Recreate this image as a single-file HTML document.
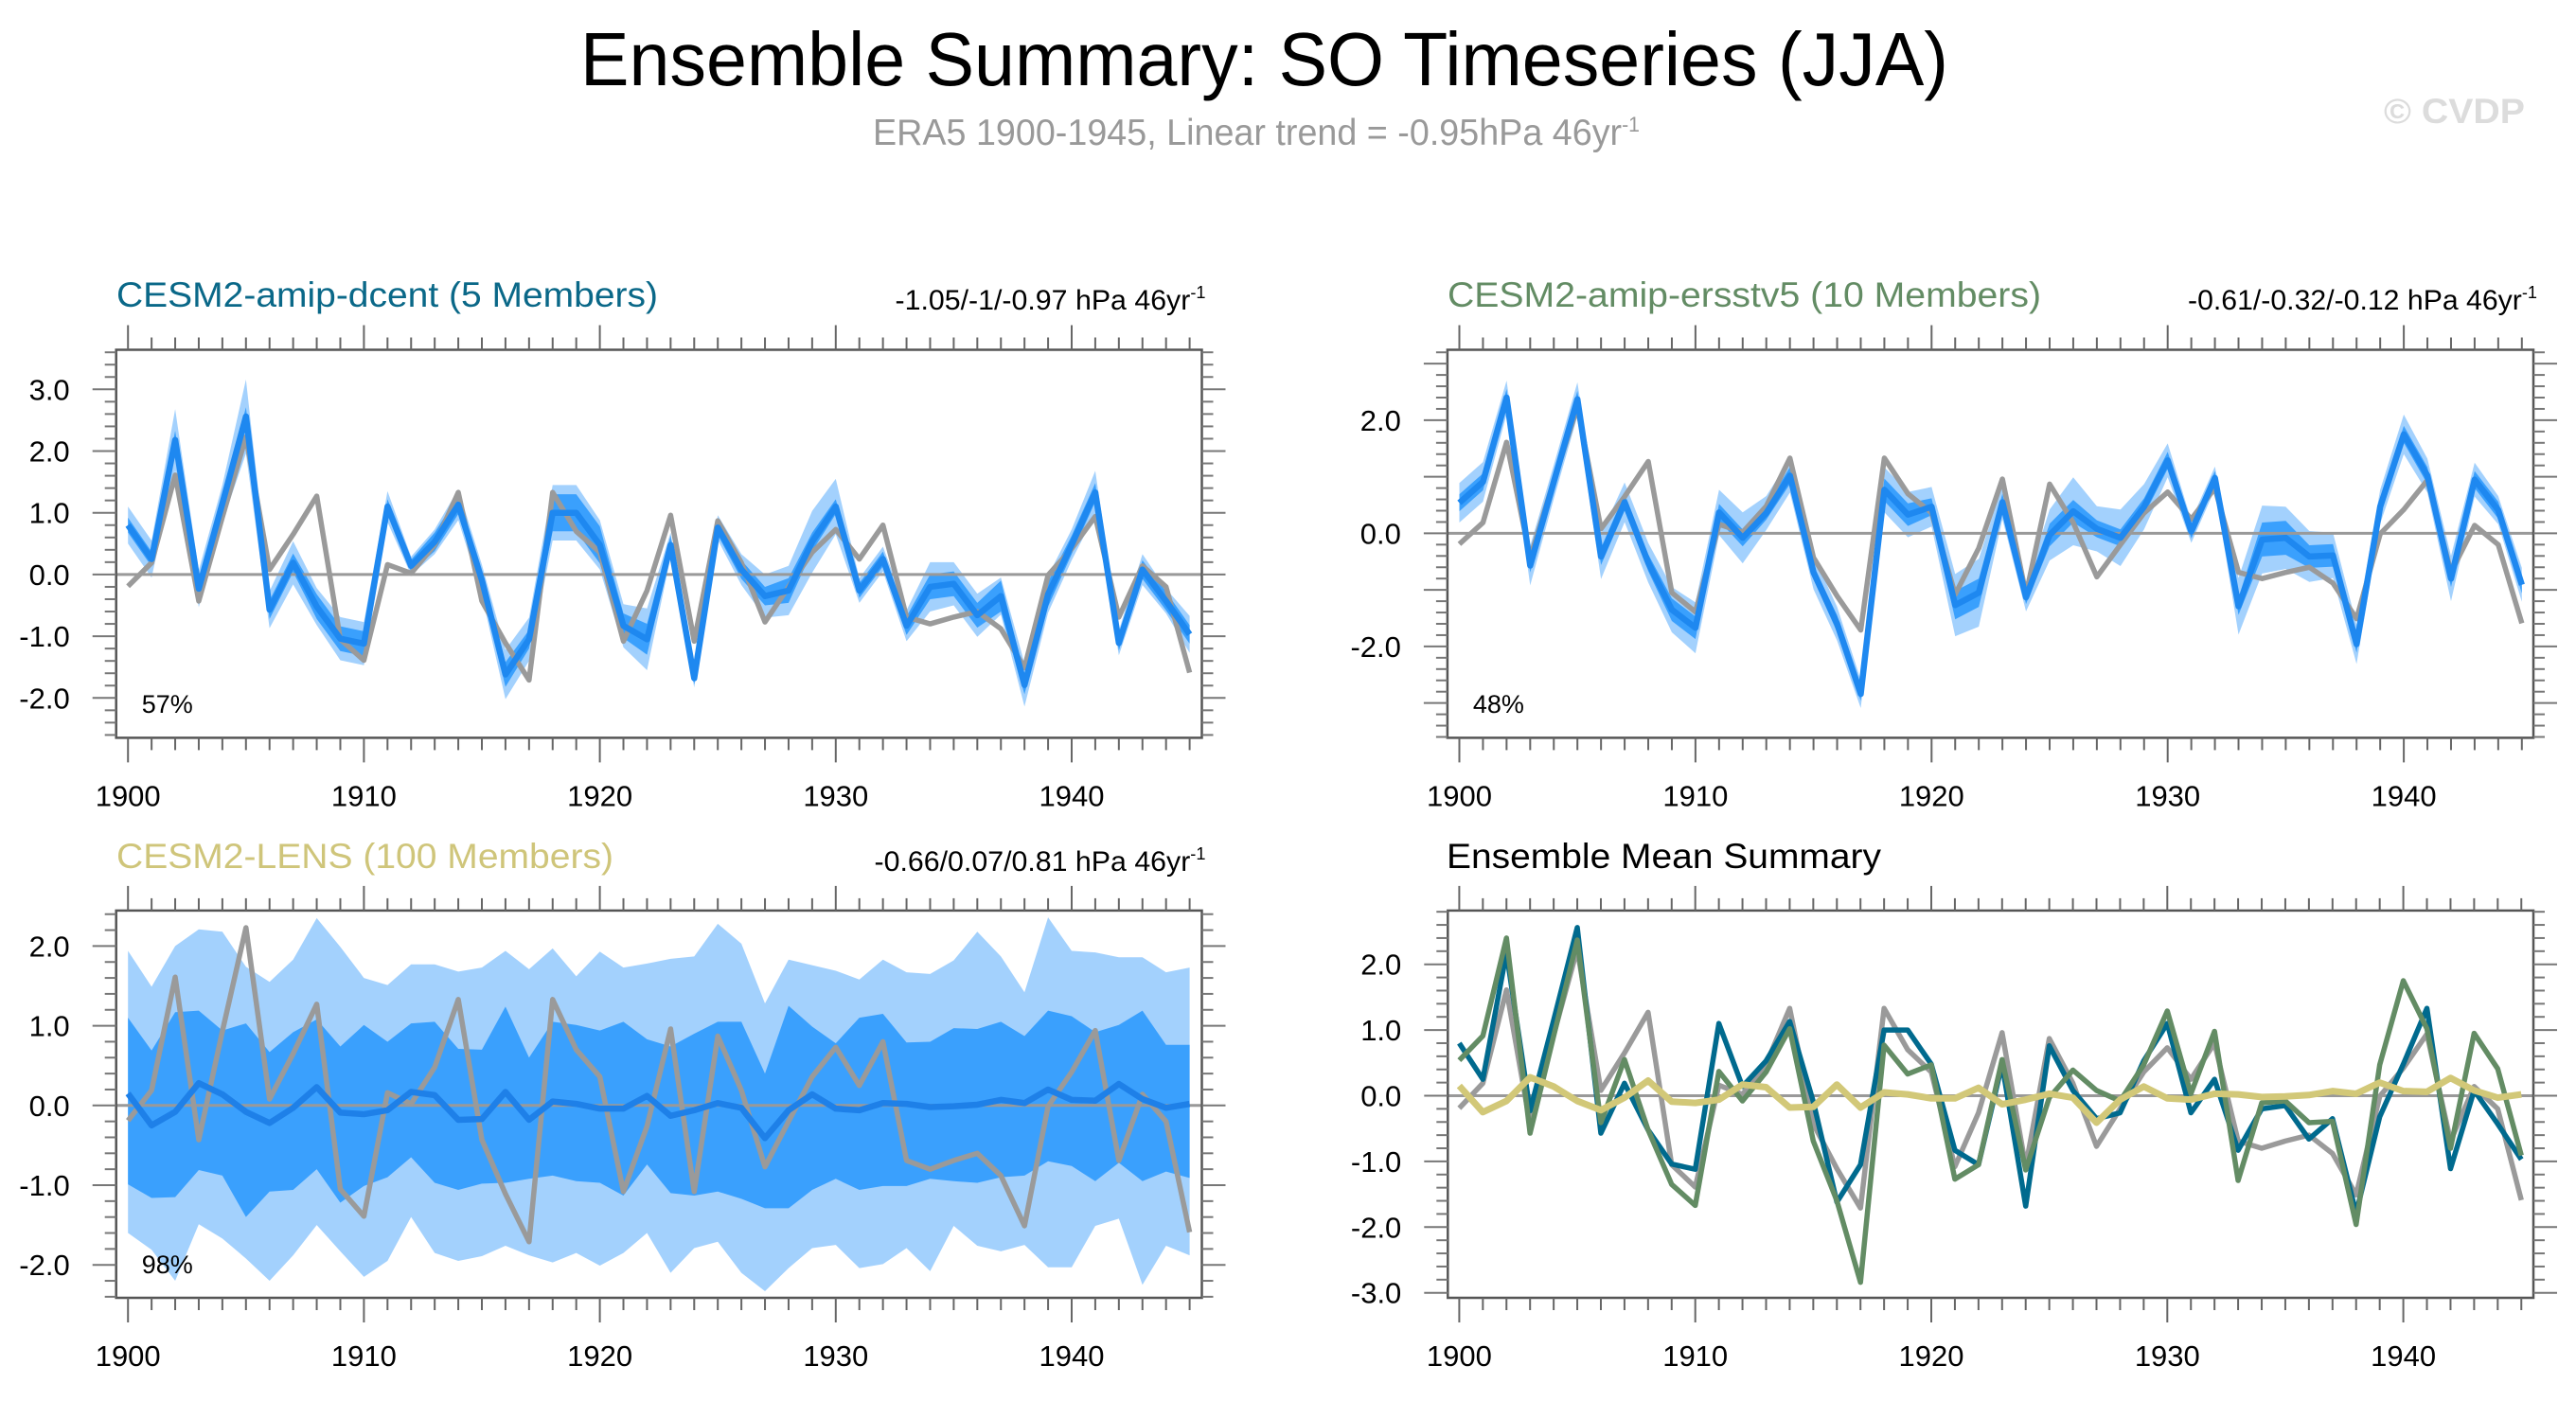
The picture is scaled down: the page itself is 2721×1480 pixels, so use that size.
<!DOCTYPE html>
<html><head><meta charset="utf-8"><style>
html,body{margin:0;padding:0;background:#fff;}
svg{display:block;font-family:"Liberation Sans",sans-serif;}
</style></head><body>
<svg id="chart" width="2721" height="1480" viewBox="0 0 2721 1480" xmlns="http://www.w3.org/2000/svg">
<rect width="2721" height="1480" fill="#fff"/>
<text x="613" y="90" font-size="80" textLength="1445" lengthAdjust="spacingAndGlyphs" fill="#000">Ensemble Summary: SO Timeseries (JJA)</text>
<text x="922" y="153" font-size="39" fill="#999" textLength="810" lengthAdjust="spacingAndGlyphs">ERA5 1900-1945, Linear trend = -0.95hPa 46yr<tspan dy="-14" font-size="22">-1</tspan></text>
<text x="2518" y="130" font-size="37" font-weight="bold" fill="#dcdcdc" textLength="149" lengthAdjust="spacingAndGlyphs">© CVDP</text>
<g id="panels"></g>
</svg>
<script>
const years = [];
for (let y = 1900; y <= 1945; y++) years.push(y);
const era5 = [-0.19,0.19,1.61,-0.43,0.93,2.23,0.08,0.65,1.27,-1.05,-1.39,0.16,0.02,0.48,1.33,-0.43,-1.11,-1.71,1.33,0.70,0.36,-1.08,-0.26,0.96,-1.08,0.87,0.19,-0.77,-0.2,0.36,0.73,0.25,0.80,-0.69,-0.80,-0.69,-0.60,-0.88,-1.51,-0.01,0.42,0.94,-0.69,0.14,-0.2,-1.59];
const dcentMean = [0.80,0.25,2.18,-0.23,1.15,2.56,-0.57,0.19,-0.52,-1.04,-1.12,1.10,0.14,0.53,1.13,-0.09,-1.62,-1.05,1.0,1.0,0.48,-0.83,-1.05,0.48,-1.68,0.76,0.08,-0.35,-0.26,0.53,1.10,-0.26,0.25,-0.83,-0.2,-0.15,-0.66,-0.35,-1.79,-0.32,0.48,1.33,-1.11,0.08,-0.43,-0.97];
const dcentDark = [0.12,0.12,0.15,0.12,0.12,0.15,0.15,0.15,0.2,0.2,0.2,0.12,0.1,0.15,0.15,0.15,0.2,0.15,0.3,0.3,0.3,0.2,0.25,0.15,0.1,0.12,0.15,0.15,0.2,0.15,0.12,0.12,0.12,0.15,0.2,0.2,0.2,0.25,0.15,0.2,0.15,0.15,0.12,0.15,0.15,0.15];
const dcentLight = [0.3,0.3,0.5,0.3,0.3,0.6,0.3,0.35,0.3,0.35,0.35,0.25,0.15,0.2,0.25,0.25,0.4,0.35,0.45,0.45,0.4,0.35,0.5,0.2,0.15,0.2,0.25,0.35,0.4,0.5,0.45,0.2,0.2,0.25,0.4,0.35,0.35,0.3,0.35,0.3,0.25,0.35,0.2,0.25,0.2,0.3];
const ersstMean = [0.54,0.91,2.40,-0.57,0.91,2.37,-0.41,0.55,-0.52,-1.35,-1.67,0.37,-0.08,0.36,1.02,-0.69,-1.60,-2.84,0.77,0.33,0.47,-1.27,-1.05,0.55,-1.13,-0.03,0.39,0.08,-0.08,0.47,1.29,0.03,0.98,-1.29,-0.11,-0.08,-0.41,-0.39,-1.96,0.47,1.75,1.02,-0.80,0.95,0.41,-0.91];
const ersstDark = [0.15,0.15,0.15,0.12,0.15,0.15,0.15,0.15,0.15,0.2,0.2,0.15,0.15,0.12,0.15,0.12,0.15,0.12,0.2,0.2,0.15,0.25,0.25,0.15,0.12,0.2,0.2,0.15,0.15,0.15,0.15,0.12,0.12,0.15,0.3,0.3,0.2,0.2,0.15,0.15,0.15,0.15,0.15,0.15,0.15,0.15];
const ersstLight = [0.35,0.35,0.3,0.35,0.3,0.3,0.4,0.35,0.35,0.4,0.45,0.4,0.45,0.3,0.3,0.3,0.3,0.25,0.4,0.4,0.35,0.55,0.6,0.3,0.25,0.45,0.6,0.4,0.5,0.4,0.3,0.2,0.2,0.5,0.6,0.55,0.45,0.4,0.35,0.3,0.35,0.3,0.4,0.3,0.25,0.3];
const lensMean = [0.15,-0.25,-0.08,0.28,0.14,-0.08,-0.22,-0.03,0.23,-0.09,-0.11,-0.06,0.17,0.13,-0.18,-0.17,0.17,-0.18,0.05,0.02,-0.04,-0.04,0.12,-0.13,-0.06,0.03,-0.03,-0.41,-0.06,0.14,-0.04,-0.06,0.03,0.02,-0.02,-0.01,0.01,0.07,0.03,0.20,0.07,0.06,0.27,0.08,-0.03,0.02];
const lensLightHi = [1.94,1.49,2.0,2.21,2.18,1.74,1.55,1.83,2.35,1.99,1.6,1.51,1.77,1.77,1.68,1.73,1.94,1.71,1.97,1.62,1.93,1.73,1.78,1.84,1.87,2.28,2.03,1.28,1.83,1.76,1.69,1.58,1.83,1.67,1.65,1.82,2.18,1.87,1.42,2.36,1.94,1.92,1.86,1.86,1.67,1.73];
const lensDarkHi = [1.1,0.69,1.17,1.19,0.94,1.03,0.67,0.92,1.08,0.74,1.01,0.8,1.03,1.05,0.71,0.7,1.24,0.6,1.05,1.01,0.94,1.05,0.83,0.74,0.9,1.05,1.05,0.4,1.25,0.99,0.78,1.1,1.15,0.79,0.8,0.97,0.96,1.05,0.87,1.19,1.12,0.92,1.01,1.19,0.76,0.76];
const lensDarkLo = [-0.99,-1.16,-1.15,-0.81,-0.88,-1.4,-1.08,-1.06,-0.8,-1.22,-1.01,-0.9,-0.65,-0.97,-1.06,-0.98,-0.97,-0.92,-0.88,-0.95,-0.97,-1.13,-0.74,-1.1,-1.13,-1.08,-1.17,-1.29,-1.29,-1.06,-0.92,-1.06,-1.01,-1.01,-0.92,-0.95,-0.97,-0.9,-0.88,-0.7,-0.76,-0.95,-0.72,-0.95,-0.83,-0.91];
const lensLightLo = [-1.6,-1.81,-2.2,-1.49,-1.67,-1.92,-2.2,-1.88,-1.5,-1.83,-2.15,-1.95,-1.4,-1.85,-1.95,-1.89,-1.76,-1.88,-1.97,-1.85,-2.01,-1.85,-1.6,-2.1,-1.79,-1.71,-2.1,-2.33,-2.04,-1.79,-1.75,-2.04,-1.99,-1.79,-2.08,-1.51,-1.76,-1.83,-1.75,-2.03,-2.03,-1.51,-1.42,-2.25,-1.76,-1.88];
const yTicksTL = [-2, -1, 0, 1, 2, 3];
const yTicksTR = [-2, 0, 2];
const yTicksBL = [-2, -1, 0, 1, 2];
const yTicksBR = [-3, -2, -1, 0, 1, 2];
const xTickLabels = [1900, 1910, 1920, 1930, 1940];

const NS = "http://www.w3.org/2000/svg";
const root = document.getElementById('panels');
function el(tag, attrs, parent) {
  const e = document.createElementNS(NS, tag);
  for (const k in attrs) e.setAttribute(k, attrs[k]);
  (parent || root).appendChild(e);
  return e;
}

function panel(cfg) {
  const g = el('g', {});
  
  
  const X = yr => cfg.x0 + (yr - 1900) * cfg.dx;
  const Y = v => cfg.yz - v * cfg.du;
  const L = cfg.left, R = cfg.right, T = cfg.top, B = cfg.bottom;
  const vTop = (cfg.yz - T) / cfg.du, vBot = (cfg.yz - B) / cfg.du;
  function band(hi, lo, color, nm) {
    let pts = years.map((yr, i) => X(yr) + ',' + Y(hi[i]));
    for (let i = years.length - 1; i >= 0; i--) pts.push(X(years[i]) + ',' + Y(lo[i]));
    const p = el('polygon', {points: pts.join(' '), fill: color}, g);
    
    
  }
  (cfg.bands || []).forEach(b => band(b.hi, b.lo, b.color, b.name));
  const z = el('line', {x1: L, x2: R, y1: Y(0), y2: Y(0), stroke: '#999', 'stroke-width': 3}, g);
  
  
  function line(vals, color, w, nm) {
    const p = el('polyline', {points: years.map((yr, i) => X(yr) + ',' + Y(vals[i])).join(' '), fill: 'none', stroke: color, 'stroke-width': w, 'stroke-linejoin': 'round'}, g);
    
    
  }
  cfg.lines.forEach(l => line(l.vals, l.color, l.w, l.name));
  const bx = el('rect', {x: L, y: T, width: R - L, height: B - T, fill: 'none', stroke: '#555', 'stroke-width': 2.5}, g);
  
  
  years.forEach(yr => {
    const maj = yr % 10 === 0, len = maj ? 26 : 13;
    el('line', {x1: X(yr), x2: X(yr), y1: T, y2: T - len, stroke: '#666', 'stroke-width': 2}, g);
    el('line', {x1: X(yr), x2: X(yr), y1: B, y2: B + len, stroke: '#666', 'stroke-width': 2}, g);
  });
  xTickLabels.forEach(yr => {
    const t = el('text', {x: X(yr), y: B + 72, 'font-size': 31, 'text-anchor': 'middle', fill: '#000'}, g);
    
    
    t.textContent = yr;
  });
  for (let k = Math.ceil(vBot * 5); k <= Math.floor(vTop * 5); k++) {
    const v = k / 5, maj = k % 5 === 0, len = maj ? 25 : 12;
    el('line', {x1: L, x2: L - len, y1: Y(v), y2: Y(v), stroke: '#777', 'stroke-width': 2}, g);
    el('line', {x1: R, x2: R + len, y1: Y(v), y2: Y(v), stroke: '#777', 'stroke-width': 2}, g);
  }
  cfg.yTicks.forEach(v => {
    const t = el('text', {x: L - 49, y: Y(v) + 11, 'font-size': 31, 'text-anchor': 'end', fill: '#000'}, g);
    
    
    t.textContent = v.toFixed(1);
  });
  const tt = el('text', {x: cfg.titleX, y: cfg.titleY, 'font-size': 37, fill: cfg.titleColor, textLength: cfg.titleW, lengthAdjust: 'spacingAndGlyphs'}, g);
  
  
  tt.textContent = cfg.title;
  if (cfg.trend) {
    const tr = el('text', {x: R + 4 - cfg.trendW, y: cfg.titleY + 3, 'font-size': 30, fill: '#000', textLength: cfg.trendW, lengthAdjust: 'spacingAndGlyphs'}, g);
    
    
    tr.innerHTML = cfg.trend + ' hPa 46yr<tspan dy="-12" font-size="18">-1</tspan>';
  }
  if (cfg.pct) {
    const pc = el('text', {x: L + 27, y: 753 + cfg.pctOff, 'font-size': 27, fill: '#000'}, g);
    
    
    pc.textContent = cfg.pct;
  }
}

const add = (a, b, s) => a.map((v, i) => v + s * b[i]);

panel({name: 'panel-amip-dcent', x0: 135.2, dx: 24.92, yz: 606.9, du: 65.2, left: 122.7, right: 1269.5, top: 369.5, bottom: 779.4,
  yTicks: yTicksTL, title: 'CESM2-amip-dcent (5 Members)', titleColor: '#0a6888', titleX: 123, titleY: 324, titleW: 572,
  trend: '-1.05/-1/-0.97', trendW: 328, pct: '57%', pctOff: 0,
  bands: [{hi: add(dcentMean, dcentLight, 1), lo: add(dcentMean, dcentLight, -1), color: '#a3d1fd', name: 'band-outer'},
          {hi: add(dcentMean, dcentDark, 1), lo: add(dcentMean, dcentDark, -1), color: '#3aa0fd', name: 'band-inner'}],
  lines: [{vals: era5, color: '#9a9a9a', w: 5.5, name: 'era5-line'}, {vals: dcentMean, color: '#1e88f0', w: 6.5, name: 'ensemble-mean-line'}]});

panel({name: 'panel-amip-ersstv5', x0: 1541.5, dx: 24.94, yz: 563.4, du: 59.75, left: 1528.9, right: 2676, top: 369.5, bottom: 779.4,
  yTicks: yTicksTR, title: 'CESM2-amip-ersstv5 (10 Members)', titleColor: '#638c64', titleX: 1529, titleY: 324, titleW: 627,
  trend: '-0.61/-0.32/-0.12', trendW: 369, pct: '48%', pctOff: 0,
  bands: [{hi: add(ersstMean, ersstLight, 1), lo: add(ersstMean, ersstLight, -1), color: '#a3d1fd', name: 'band-outer'},
          {hi: add(ersstMean, ersstDark, 1), lo: add(ersstMean, ersstDark, -1), color: '#3aa0fd', name: 'band-inner'}],
  lines: [{vals: era5, color: '#9a9a9a', w: 5.5, name: 'era5-line'}, {vals: ersstMean, color: '#1e88f0', w: 6.5, name: 'ensemble-mean-line'}]});

panel({name: 'panel-lens', x0: 135.2, dx: 24.92, yz: 1167.8, du: 84.2, left: 122.7, right: 1269.5, top: 961.9, bottom: 1371,
  yTicks: yTicksBL, title: 'CESM2-LENS (100 Members)', titleColor: '#cfc57a', titleX: 123, titleY: 917, titleW: 525,
  trend: '-0.66/0.07/0.81', trendW: 350, pct: '98%', pctOff: 592,
  bands: [{hi: lensLightHi, lo: lensLightLo, color: '#a3d1fd', name: 'band-outer'},
          {hi: lensDarkHi, lo: lensDarkLo, color: '#3aa0fd', name: 'band-inner'}],
  lines: [{vals: era5, color: '#9a9a9a', w: 5.5, name: 'era5-line'}, {vals: lensMean, color: '#1e80e8', w: 6.5, name: 'ensemble-mean-line'}]});

panel({name: 'panel-ensemble-mean-summary', x0: 1541.4, dx: 24.93, yz: 1157.5, du: 69.4, left: 1529.3, right: 2676, top: 961.9, bottom: 1371,
  yTicks: yTicksBR, title: 'Ensemble Mean Summary', titleColor: '#000', titleX: 1528, titleY: 917, titleW: 459,
  bands: [],
  lines: [{vals: era5, color: '#9a9a9a', w: 5.5, name: 'era5-line'},
          {vals: dcentMean, color: '#006a8e', w: 5.5, name: 'dcent-mean-line'},
          {vals: ersstMean, color: '#638c64', w: 5.5, name: 'ersstv5-mean-line'},
          {vals: lensMean, color: '#d2c878', w: 7, name: 'lens-mean-line'}]});
</script>
</body></html>
